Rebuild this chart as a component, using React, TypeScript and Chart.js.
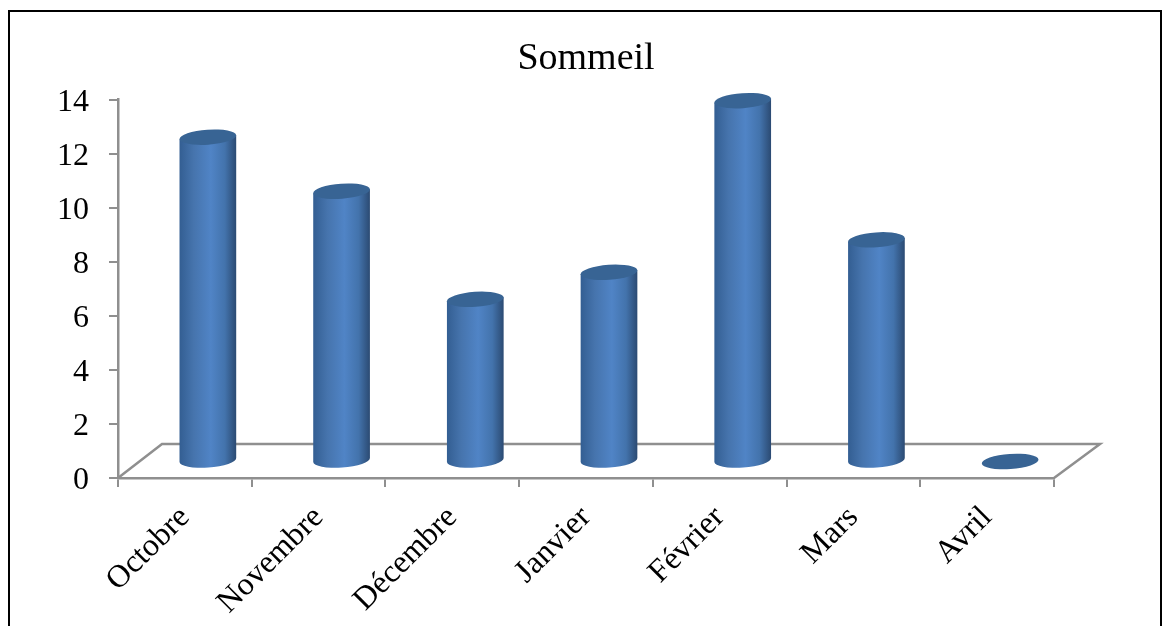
import React, { useEffect, useRef } from "react";
import { Chart, registerables } from "chart.js";

Chart.register(...registerables);

const categories = ["Octobre", "Novembre", "Décembre", "Janvier", "Février", "Mars", "Avril"];
const sommeil = [12, 10, 6, 7, 13.35, 8.2, 0];
const titleText = "Sommeil";
const FONT = "'Liberation Serif', 'Times New Roman', serif";
const AXIS = "#8f8f8f";
const DEPTH_X = 44;
const DEPTH_Y = 34;

const frame = {
  id: "frame",
  beforeDraw(chart: any) {
    const { ctx, width, height } = chart;
    ctx.save();
    ctx.fillStyle = "#fff";
    ctx.fillRect(0, 0, width, height);
    ctx.strokeStyle = "#000";
    ctx.lineWidth = 2;
    ctx.strokeRect(9, 11, 1152, height + 20);
    ctx.restore();
  },
};

const cylinders = {
  id: "cylinders",
  beforeDatasetsDraw(chart: any) {
    const { ctx, chartArea } = chart;
    const { left, right, bottom } = chartArea;
    ctx.save();
    ctx.strokeStyle = AXIS;
    ctx.lineWidth = 2.5;
    ctx.lineJoin = "miter";
    ctx.beginPath();
    ctx.moveTo(left, bottom);
    ctx.lineTo(left + DEPTH_X, bottom - DEPTH_Y);
    ctx.lineTo(right + DEPTH_X + 2, bottom - DEPTH_Y);
    ctx.lineTo(right, bottom);
    ctx.stroke();
    ctx.restore();
  },
  beforeDatasetDraw(chart: any, args: any) {
    const { ctx } = chart;
    const meta = chart.getDatasetMeta(args.index);
    const tilt = -0.07;
    const ry = 7.5;
    meta.data.forEach((bar: any) => {
      const cx = bar.x + DEPTH_X / 2 + 1;
      const topY = bar.y - DEPTH_Y / 2 + 0.5;
      const baseY = bar.base - DEPTH_Y / 2;
      const rx = bar.width / 2;
      const ex = rx * Math.cos(tilt);
      const ey = rx * Math.sin(tilt);
      ctx.save();
      if (baseY - topY > 1) {
        const g = ctx.createLinearGradient(cx - rx, 0, cx + rx, 0);
        g.addColorStop(0, "#335e92");
        g.addColorStop(0.25, "#4674ad");
        g.addColorStop(0.55, "#5084c6");
        g.addColorStop(0.8, "#4373ac");
        g.addColorStop(1, "#2b4a72");
        ctx.fillStyle = g;
        ctx.beginPath();
        ctx.ellipse(cx, baseY, rx, ry, tilt, 0, Math.PI);
        ctx.lineTo(cx - ex, topY - ey);
        ctx.lineTo(cx + ex, topY + ey);
        ctx.closePath();
        ctx.fill();
      }
      ctx.fillStyle = "#386494";
      ctx.beginPath();
      ctx.ellipse(cx, topY, rx, ry, tilt, 0, Math.PI * 2);
      ctx.fill();
      ctx.restore();
    });
    return false;
  },
};

export default function App() {
  const ref = useRef<HTMLCanvasElement>(null);
  useEffect(() => {
    const chart = new Chart(ref.current!, {
      type: "bar",
      data: {
        labels: categories,
        datasets: [
          {
            label: titleText,
            data: sommeil,
            backgroundColor: "#4f81bd",
            barPercentage: 0.425,
            categoryPercentage: 1,
          },
        ],
      },
      plugins: [frame, cylinders],
      options: {
        responsive: false,
        animation: false,
        layout: { padding: { left: 0, right: 116, top: 0, bottom: 0 } },
        plugins: {
          legend: { display: false },
          tooltip: { enabled: false },
          title: {
            display: true,
            fullSize: false,
            text: titleText,
            color: "#000",
            font: { family: FONT, size: 38, weight: "normal" },
            padding: { top: 36, bottom: 18 },
          },
        },
        scales: {
          x: {
            offset: true,
            afterFit(s: any) {
              s.height = 148;
            },
            border: { color: AXIS, width: 2.5 },
            grid: { drawOnChartArea: false, drawTicks: true, tickLength: 9, color: AXIS, lineWidth: 2 },
            ticks: {
              color: "#000",
              font: { family: FONT, size: 32 },
              minRotation: 45,
              maxRotation: 45,
              padding: 12,
              autoSkip: false,
            },
          },
          y: {
            min: 0,
            max: 14,
            afterFit(s: any) {
              s.width = 118;
            },
            border: { color: AXIS, width: 2.5 },
            grid: { drawOnChartArea: false, drawTicks: true, tickLength: 9, color: AXIS, lineWidth: 2 },
            ticks: {
              stepSize: 2,
              color: "#000",
              font: { family: FONT, size: 32 },
              padding: 20,
              labelOffset: 2.5,
            },
          },
        },
      },
    } as any);
    return () => chart.destroy();
  }, []);
  return (
    <div style={{ position: "absolute", left: 0, top: 0, width: 1170, height: 626, overflow: "hidden" }}>
      <canvas ref={ref} width={1170} height={626} style={{ display: "block" }} />
    </div>
  );
}
